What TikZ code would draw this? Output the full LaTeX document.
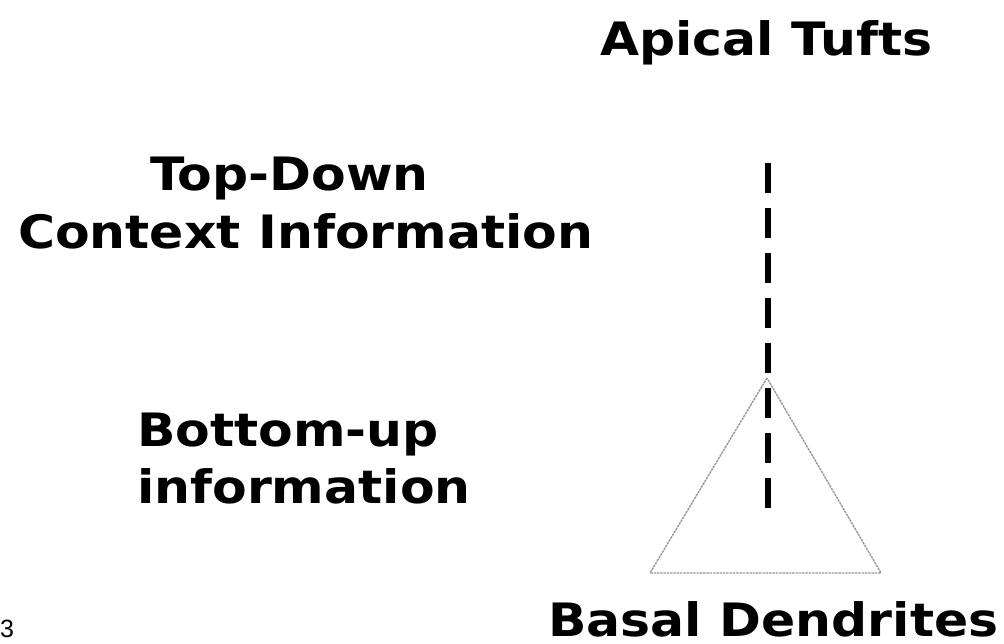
\documentclass[tikz,border=0pt]{standalone}
\usepackage{fontspec}
\setmainfont{DejaVu Sans}
\newfontfamily\numfont{Liberation Sans}
\newcommand\hstretchtxt[1]{\scalebox{1.097}[1]{#1}}
\begin{document}
\begin{tikzpicture}[x=1pt,y=-1pt,
  lbl/.style={inner sep=0pt, font=\bfseries\fontsize{46}{50}\selectfont, anchor=base west},
  axon/.style={line width=6pt, dash pattern=on 30pt off 15pt},
  soma/.style={draw=black!40, line width=1.4pt, dash pattern=on 2.5pt off 0.8pt}]
\useasboundingbox (0,0) rectangle (1004,643);
\node[lbl] (apical) at (600,55) {\hstretchtxt{Apical Tufts}};
\node[lbl] (topdown) at (150,190) {\hstretchtxt{Top-Down}};
\node[lbl] (context) at (18,248) {\hstretchtxt{Context Information}};
\node[lbl] (bottomup) at (137,446) {\hstretchtxt{Bottom-up}};
\node[lbl] (info) at (137,503) {\hstretchtxt{information}};
\node[lbl] (basal) at (548,636) {\hstretchtxt{Basal Dendrites}};
\node[inner sep=0pt, anchor=base west, font=\numfont\fontsize{25}{27}\selectfont] (num) at (0,637) {3};
\coordinate (apex) at (767,378);
\coordinate (bl) at (650,573);
\coordinate (br) at (881,573);
\draw[soma] (apex) -- (bl) -- (br) -- cycle;
\coordinate (dtop) at (768,163);
\coordinate (dbot) at (768,508);
\draw[axon] (dtop) -- (dbot);
\end{tikzpicture}
\end{document}
